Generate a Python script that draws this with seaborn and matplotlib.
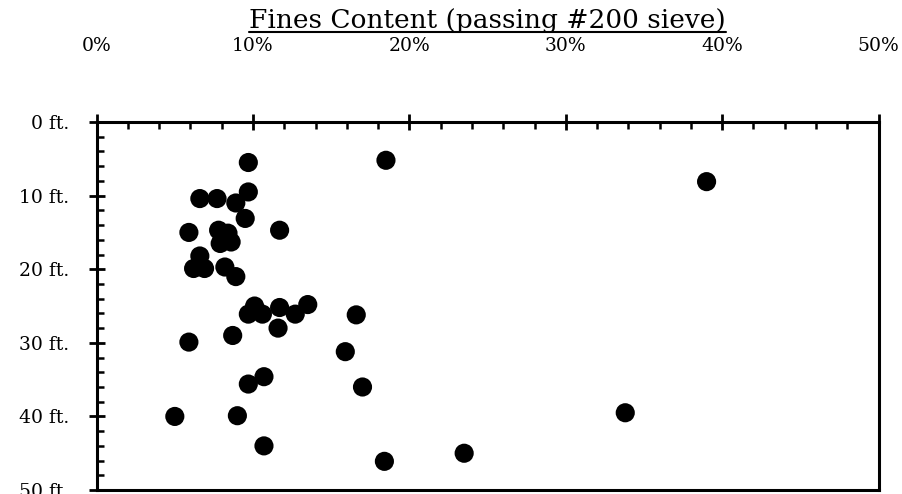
import pandas as pd
import matplotlib.pyplot as plt
from matplotlib.ticker import MultipleLocator, FuncFormatter
import seaborn as sns

# Fines content (%) and depth (ft)
fines = [9.7, 18.5, 39.0, 6.6, 7.7, 8.9, 9.7, 9.5, 11.7, 5.9,
         7.8, 8.4, 7.9, 8.6, 6.6, 6.2, 6.9, 8.2, 8.9,
         10.1, 9.7, 10.6, 11.7, 12.7, 13.5, 11.6, 16.6, 5.9, 8.7,
         15.9, 9.7, 10.7, 17.0, 5.0, 9.0, 33.8, 10.7, 23.5, 18.4]
depth = [5.5, 5.2, 8.1, 10.4, 10.4, 11.0, 9.5, 13.1, 14.7, 15.0,
         14.7, 15.1, 16.5, 16.3, 18.2, 19.9, 19.9, 19.7, 21.0,
         25.0, 26.1, 26.1, 25.2, 26.1, 24.8, 28.0, 26.2, 29.9, 29.0,
         31.2, 35.6, 34.6, 36.0, 40.0, 39.9, 39.5, 44.0, 45.0, 46.1]

data = pd.DataFrame({'fines': fines, 'depth': depth})

sns.set_style('ticks')
plt.rcParams['font.family'] = ['DejaVu Serif']
plt.rcParams['text.color'] = 'black'

fig = plt.figure(figsize=(9.03, 4.94), dpi=100)
ax = fig.add_axes([0.107, 0.008, 0.866, 0.745])

sns.scatterplot(x='fines', y='depth', data=data, ax=ax, color='black',
                s=190, edgecolor='none', linewidth=0, legend=False)

ax.set_xlim(0, 50)
ax.set_ylim(50, 0)
ax.xaxis.set_ticks_position('top')
ax.xaxis.set_label_position('top')
ax.xaxis.set_major_locator(MultipleLocator(10))
ax.xaxis.set_minor_locator(MultipleLocator(2))
ax.yaxis.set_major_locator(MultipleLocator(10))
ax.yaxis.set_minor_locator(MultipleLocator(2))
ax.xaxis.set_major_formatter(FuncFormatter(lambda v, p: f'{v:.0f}%'))
ax.yaxis.set_major_formatter(FuncFormatter(lambda v, p: f'{v:.0f} ft.'))

ax.tick_params(axis='x', which='major', direction='inout', length=12, width=2,
               labelsize=13.5, pad=42, colors='black')
ax.tick_params(axis='y', which='major', direction='inout', length=12, width=2,
               labelsize=13.5, pad=14, colors='black')
ax.tick_params(which='minor', direction='in', length=5, width=1.8, colors='black')
ax.tick_params(axis='y', which='minor', right=False)
ax.tick_params(axis='x', which='minor', bottom=False)

for side in ['top', 'bottom', 'left', 'right']:
    ax.spines[side].set_visible(True)
    ax.spines[side].set_linewidth(2.2)
    ax.spines[side].set_color('black')

ax.set_xlabel('')
ax.set_ylabel('')

# underlined title above the top axis
title = fig.text(0.54, 0.958, 'Fines Content (passing #200 sieve)', ha='center',
                 va='center', fontsize=19, color='black')
fig.canvas.draw()
bb = title.get_window_extent().transformed(fig.transFigure.inverted())
fig.add_artist(plt.Line2D([bb.x0, bb.x1], [bb.y0 + 0.002, bb.y0 + 0.002],
                          color='black', linewidth=1.5, transform=fig.transFigure))

fig.savefig('out.png', dpi=100)
